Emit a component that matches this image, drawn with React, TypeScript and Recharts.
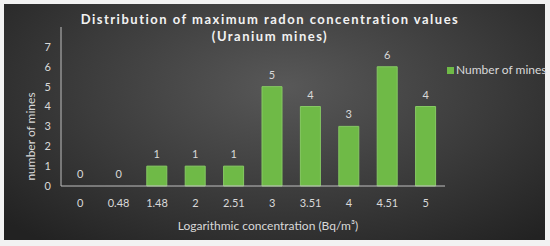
import { ComposedChart, Bar, Line, XAxis, YAxis, Legend, LabelList } from "recharts";

const concentrations = ["0", "0.48", "1.48", "2", "2.51", "3", "3.51", "4", "4.51", "5"];
const mineCounts = [0, 0, 1, 1, 1, 5, 4, 3, 6, 4];
const yTicks = [0, 1, 2, 3, 4, 5, 6, 7];

// zero bars have no height, so their "0" labels ride on an invisible line
const data = concentrations.map((c, i) => ({
  conc: c,
  minas: mineCounts[i],
  zero: mineCounts[i] === 0 ? 0 : null,
}));

const FONT = "Lato, 'Open Sans', sans-serif";
const TEXT = "#d9d9d9";

export default function App() {
  return (
    <div
      style={{
        position: "fixed",
        left: 0,
        top: 0,
        width: 550,
        height: 246,
        background: "#f2f2f2",
        fontFamily: FONT,
      }}
    >
      <div
        style={{
          position: "absolute",
          left: 4,
          top: 4,
          width: 541,
          height: 236,
          background:
            "radial-gradient(ellipse 70% 85% at 52% 35%, #585858 0%, #3b3b3b 55%, #222222 100%)",
        }}
      >
        <div
          style={{
            position: "absolute",
            left: 0,
            width: 532,
            top: 7,
            textAlign: "center",
            color: "#f2f2f2",
            fontWeight: 700,
            fontSize: 13,
            letterSpacing: 1.5,
            lineHeight: "17px",
          }}
        >
          Distribution of maximum radon concentration values
          <br />
          (Uranium mines)
        </div>
        <ComposedChart
          width={541}
          height={236}
          data={data}
          margin={{ top: 23, right: 100, bottom: 8, left: 0 }}
          barSize={20}
          style={{ position: "absolute", left: 0, top: 0 }}
        >
          <XAxis
            dataKey="conc"
            height={46}
            tickLine={false}
            tickMargin={7}
            axisLine={{ stroke: "#bfbfbf" }}
            tick={{ fill: TEXT, fontSize: 11, fontFamily: FONT }}
            label={{
              value: "Logarithmic concentration (Bq/m³)",
              position: "insideBottom",
              offset: 2,
              dx: 15,
              fill: TEXT,
              fontSize: 12,
              fontFamily: FONT,
            }}
          />
          <YAxis
            width={57}
            domain={[0, 8]}
            ticks={yTicks}
            interval={0}
            tickLine={false}
            tickMargin={4}
            axisLine={{ stroke: "#bfbfbf" }}
            tick={{ fill: TEXT, fontSize: 11, fontFamily: FONT }}
            label={{
              value: "number of mines",
              angle: -90,
              position: "insideLeft",
              offset: 27,
              dy: 30,
              fill: TEXT,
              fontSize: 12,
              fontFamily: FONT,
              style: { textAnchor: "middle" },
            }}
          />
          <Legend
            layout="horizontal"
            align="center"
            verticalAlign="middle"
            iconType="square"
            iconSize={7}
            wrapperStyle={{ left: 443, top: 58, width: 103, fontSize: 12 }}
            formatter={(v) => (
              <span style={{ color: TEXT, whiteSpace: "nowrap", marginLeft: -2 }}>{v}</span>
            )}
          />
          <Bar
            dataKey="minas"
            name="Number of mines"
            fill="#6fba47"
            stroke="#86c963"
            strokeWidth={1}
            isAnimationActive={false}
          >
            <LabelList
              dataKey="minas"
              position="top"
              offset={8}
              fill={TEXT}
              fontSize={11}
              fontFamily={FONT}
            />
          </Bar>
          <Line
            dataKey="zero"
            stroke="none"
            dot={false}
            activeDot={false}
            legendType="none"
            isAnimationActive={false}
          >
            <LabelList
              dataKey="zero"
              position="top"
              offset={8}
              fill={TEXT}
              fontSize={11}
              fontFamily={FONT}
            />
          </Line>
        </ComposedChart>
      </div>
    </div>
  );
}
